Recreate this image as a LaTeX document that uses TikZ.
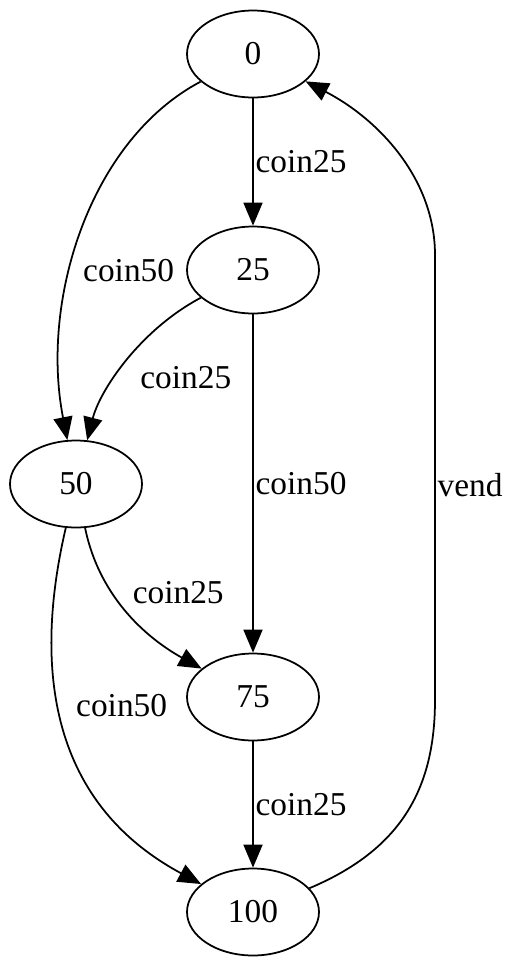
\documentclass[tikz,border=0pt]{standalone}
\usepackage{fontspec}
\setmainfont{Liberation Serif}
\usetikzlibrary{shapes.geometric, arrows.meta, positioning}

\begin{document}
\begin{tikzpicture}[
    x=0.02cm, y=-0.02cm,
    every node/.style={font=\fontsize{19}{22}\selectfont},
    state/.style={draw, ellipse, line width=1pt, minimum width=2.64cm,
                  minimum height=1.74cm, inner sep=0pt},
    edge/.style={draw, line width=1pt, -{Triangle[length=0.46cm, width=0.38cm]}},
    lbl/.style={inner sep=1pt}
]
    \useasboundingbox (0,0) rectangle (506,965);

    % states
    \node[state] (s0)   at (253, 54)  {0};
    \node[state] (s25)  at (253, 270) {25};
    \node[state] (s50)  at (76, 484)  {50};
    \node[state] (s75)  at (253, 697) {75};
    \node[state] (s100) at (253, 912) {100};

    % transitions
    \path[edge] (s0) -- (s25)
        node[lbl, pos=0.5, right] {coin25};
    \path[edge] (s0) .. controls (90,140) and (40,300) .. (s50)
        node[lbl, pos=0.6, anchor=west, xshift=0.2cm] {coin50};
    \path[edge] (s25) .. controls (140,330) and (100,390) .. (s50)
        node[lbl, pos=0.6, anchor=west, xshift=0.45cm] {coin25};
    \path[edge] (s25) -- (s75)
        node[lbl, pos=0.5, right] {coin50};
    \path[edge] (s50) .. controls (100,600) and (150,640) .. (s75)
        node[lbl, pos=0.4, anchor=west, xshift=0.25cm, yshift=0.16cm] {coin25};
    \path[edge] (s50) .. controls (35,660) and (45,800) .. (s100)
        node[lbl, pos=0.45, anchor=west, xshift=0.3cm] {coin50};
    \path[edge] (s75) -- (s100)
        node[lbl, pos=0.5, right] {coin25};
    \path[edge] (s100) .. controls (400,850) and (435,790) .. (435,700)
        -- (435,255) node[lbl, pos=0.483, right] {vend}
        .. controls (435,180) and (380,120) .. (s0);
\end{tikzpicture}
\end{document}
